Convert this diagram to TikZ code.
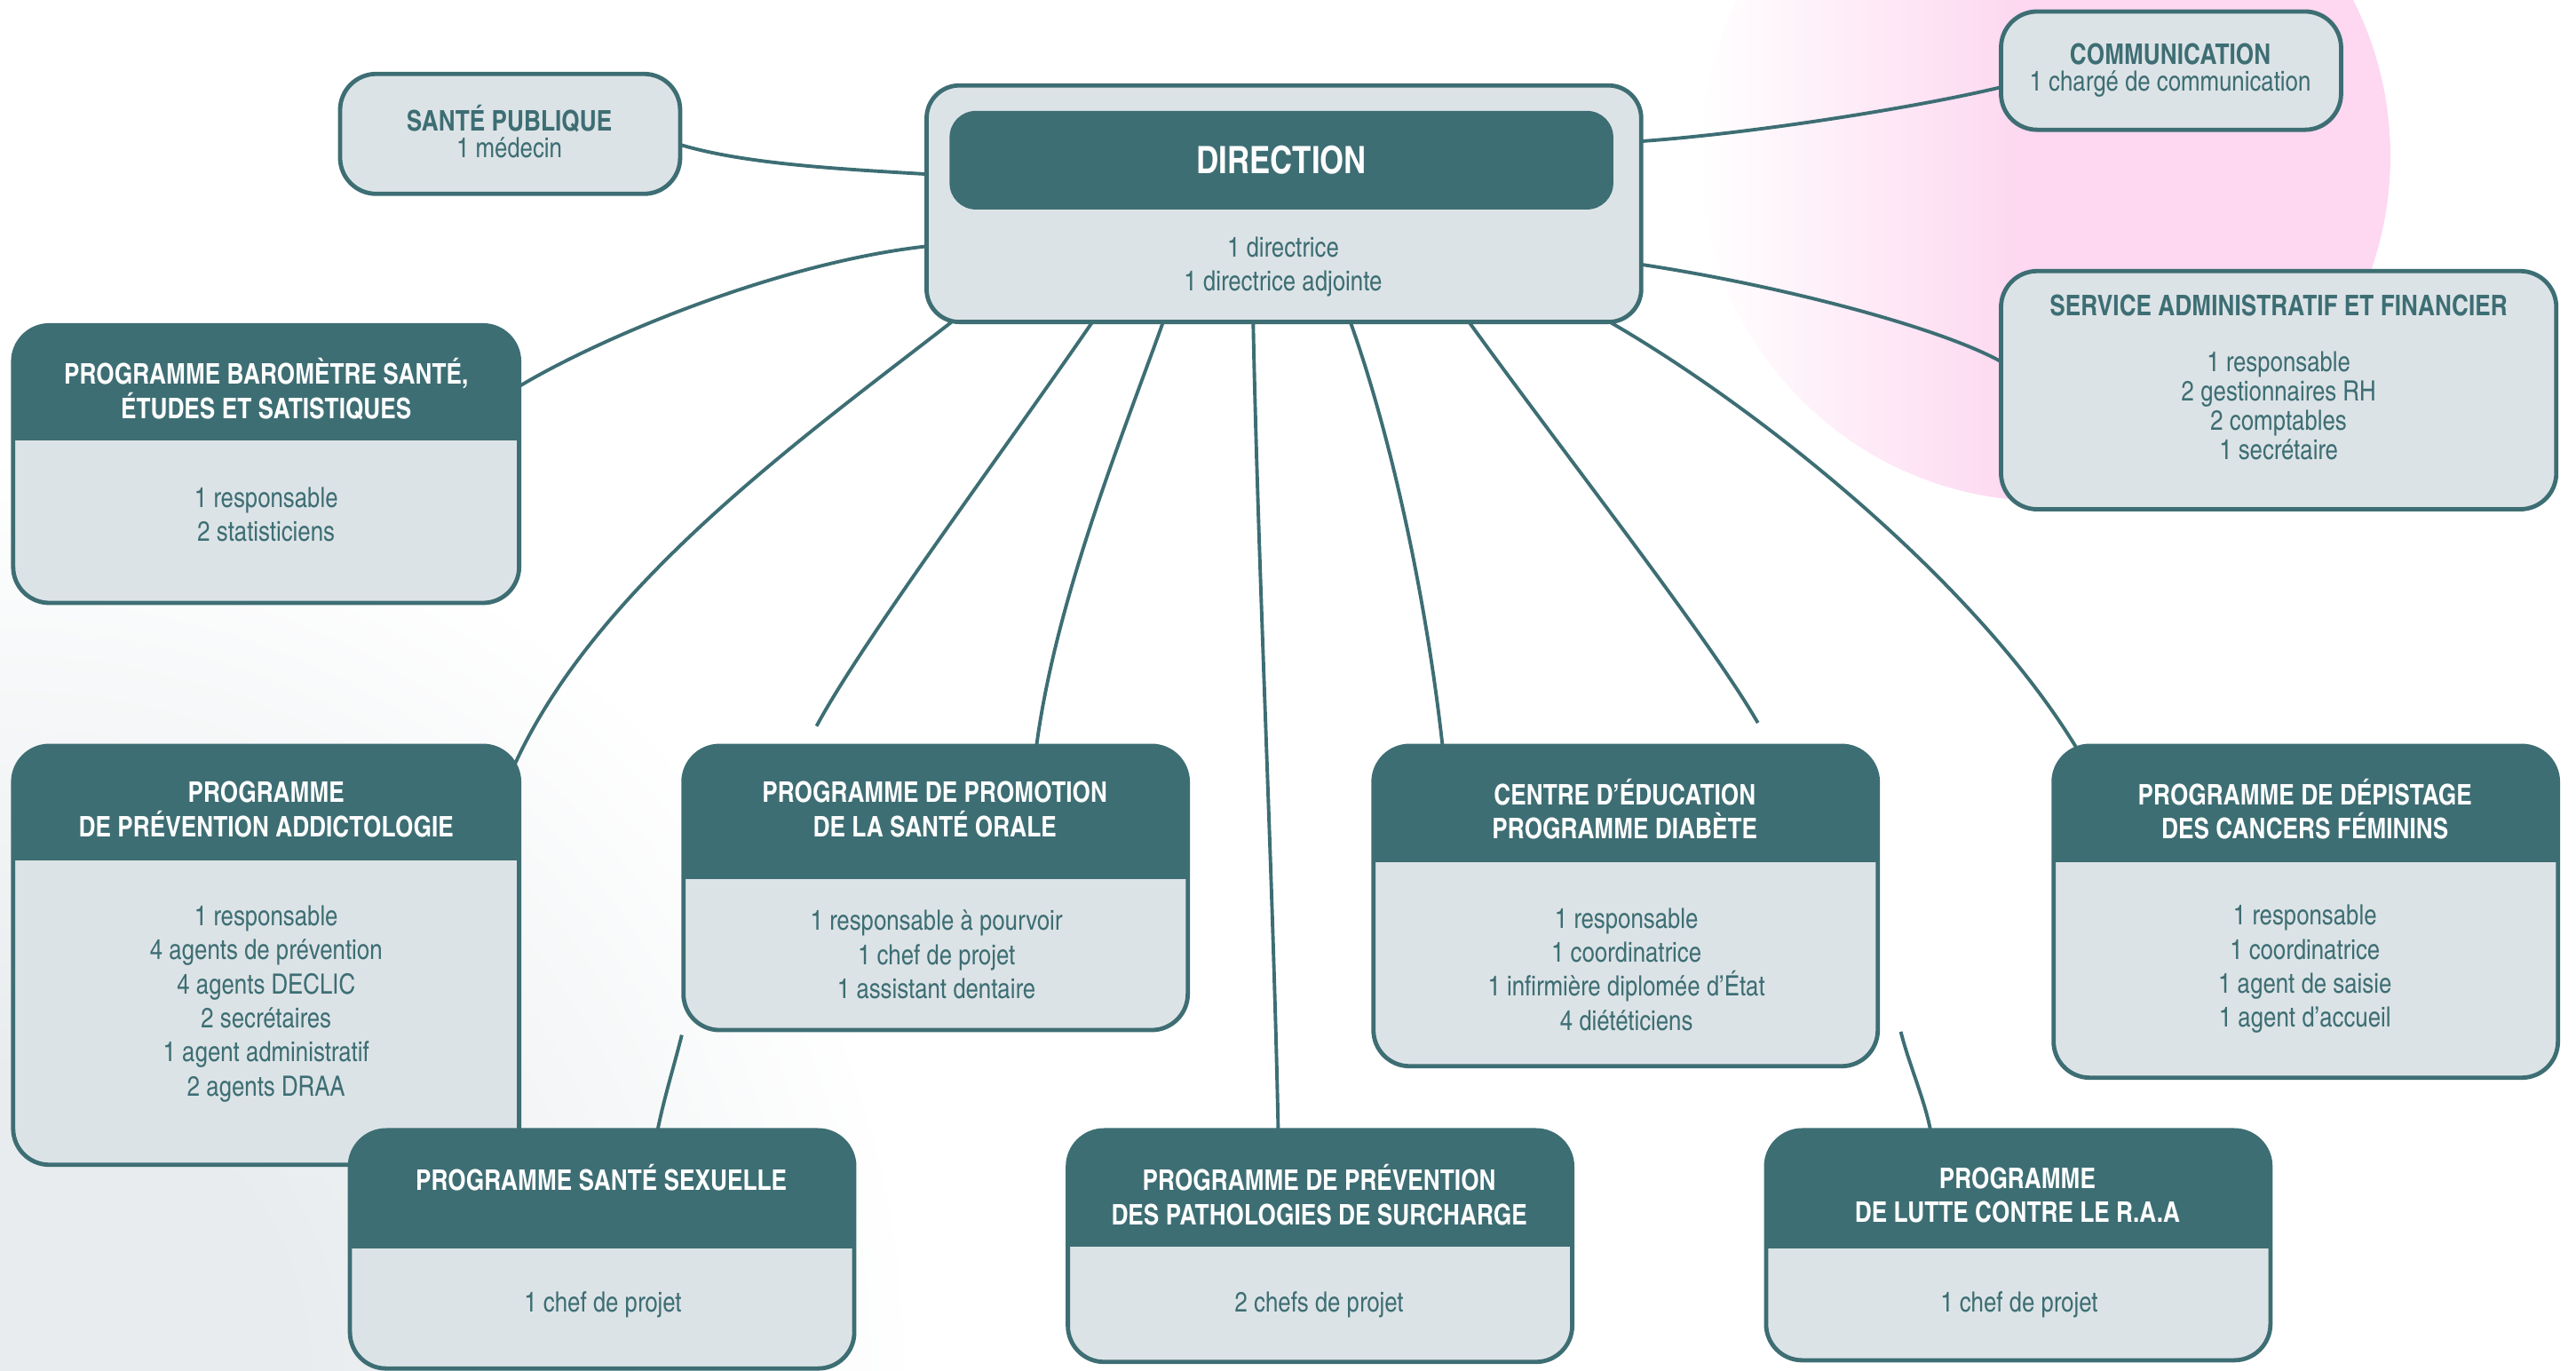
\documentclass[tikz,border=0pt]{standalone}
\usepackage{fontspec}
\setmainfont{texgyreheroscn-regular.otf}[BoldFont=texgyreheroscn-bold.otf]
\usetikzlibrary{calc}
\definecolor{orgteal}{RGB}{61,110,116}
\definecolor{orglight}{RGB}{220,227,230}
\definecolor{orgpink}{RGB}{253,216,240}
\definecolor{orggrey}{RGB}{232,236,238}
\pgfdeclarehorizontalshading{pinkfade}{100bp}{color(0bp)=(white); color(25bp)=(white); color(48bp)=(orgpink); color(100bp)=(orgpink)}
\pgfdeclareradialshading{greyfade}{\pgfpoint{0bp}{0bp}}{color(0bp)=(orggrey); color(8bp)=(orggrey); color(25bp)=(white); color(50bp)=(white)}
\begin{document}
\begin{tikzpicture}[x=1pt,y=-1pt,
  box/.style={rectangle, draw=orgteal, line width=2.6pt, fill=orglight, rounded corners=22pt, inner sep=0pt, outer sep=0pt},
  hdr/.style={path picture={\fill[orgteal, sharp corners] ([yshift=5pt]path picture bounding box.north west) rectangle ([yshift=-#1]path picture bounding box.north east);}},
  ttl/.style={text=white, font=\bfseries\fontsize{17.3}{21}\selectfont, align=center, inner sep=0pt},
  ttlt/.style={text=orgteal, font=\bfseries\fontsize{17.3}{21}\selectfont, align=center, inner sep=0pt},
  bdy/.style={text=orgteal, font=\fontsize{17}{20.7}\selectfont, align=center, inner sep=0pt},
  bdytight/.style={text=orgteal, font=\fontsize{17}{17.7}\selectfont, align=center, inner sep=0pt},
  conn/.style={draw=orgteal, line width=2.1pt}
]
\useasboundingbox (0,0) rectangle (1568,834.5);
\clip (0,0) rectangle (1568,834.5);
% background
\shade[shading=greyfade] (0,834.5) circle (560);
\shade[shading=pinkfade] (1245,95) circle (210);

% box outlines as named nodes (drawn later on top)
\path
  node[box, minimum width=207pt, minimum height=73pt, draw=none, fill=none] (sp) at (310.5,81.5) {}
  node[box, minimum width=435pt, minimum height=144pt, draw=none, fill=none] (dir) at (781.5,124) {}
  node[box, minimum width=207pt, minimum height=72pt, draw=none, fill=none] (com) at (1321.5,43) {}
  node[box, minimum width=338pt, minimum height=145pt, draw=none, fill=none] (ser) at (1387,237.5) {}
  node[box, minimum width=308pt, minimum height=169pt, draw=none, fill=none] (bar) at (162,282.5) {}
  node[box, minimum width=308pt, minimum height=255pt, draw=none, fill=none] (add) at (162,581.5) {}
  node[box, minimum width=307pt, minimum height=173pt, draw=none, fill=none] (ora) at (569.5,540.5) {}
  node[box, minimum width=307pt, minimum height=195pt, draw=none, fill=none] (cen) at (989.5,551.5) {}
  node[box, minimum width=307pt, minimum height=202pt, draw=none, fill=none] (dep) at (1403.5,555) {}
  node[box, minimum width=307pt, minimum height=145pt, draw=none, fill=none] (sex) at (366.5,760.5) {}
  node[box, minimum width=307pt, minimum height=141pt, draw=none, fill=none] (pat) at (803.5,758.5) {}
  node[box, minimum width=307pt, minimum height=140pt, draw=none, fill=none] (raa) at (1228.5,758) {};

% connectors passing behind boxes (shown in two visible pieces)
\coordinate (s6a) at (497,442);
\coordinate (s6b) at (415,630);
\coordinate (s10a) at (1070,440);
\coordinate (s10b) at (1157,628);
\draw[conn] ($(dir.south west)!0.232!(dir.south east)$) .. controls +(-55,80) and +(28,-52) .. (s6a);
\draw[conn] (s6b) .. controls +(-5,20) and +(4,-20) .. ($(sex.north west)!0.61!(sex.north east)$);
\draw[conn] ($(dir.south west)!0.759!(dir.south east)$) .. controls +(57,79) and +(-30,-52) .. (s10a);
\draw[conn] (s10b) .. controls +(5,20) and +(-4,-20) .. ($(raa.north west)!0.326!(raa.north east)$);

% direct connectors
\draw[conn] ($(sp.north east)!0.59!(sp.south east)$) .. controls +(40,12) and +(-50,-3) .. ($(dir.north west)!0.375!(dir.south west)$);
\draw[conn] ($(dir.north east)!0.236!(dir.south east)$) .. controls +(70,-5) and +(-50,12) .. ($(com.north west)!0.64!(com.south west)$);
\draw[conn] ($(dir.north east)!0.757!(dir.south east)$) .. controls +(80,12) and +(-40,-22) .. ($(ser.north west)!0.38!(ser.south west)$);
\draw[conn] ($(dir.north west)!0.68!(dir.south west)$) .. controls +(-90,10) and +(50,-30) .. ($(bar.north east)!0.22!(bar.south east)$);
\draw[conn] ($(dir.south west)!0.035!(dir.south east)$) .. controls +(-90,70) and +(50,-110) .. ($(add.north east)+(-3,12)$);
\draw[conn] ($(dir.south west)!0.331!(dir.south east)$) .. controls +(-25,70) and +(12,-90) .. ($(ora.north west)!0.70!(ora.north east)$);
\draw[conn] ($(dir.south west)!0.457!(dir.south east)$) .. controls +(3,150) and +(-3,-150) .. ($(pat.north west)!0.417!(pat.north east)$);
\draw[conn] ($(dir.south west)!0.593!(dir.south east)$) .. controls +(25,70) and +(-10,-90) .. ($(cen.north west)!0.137!(cen.north east)$);
\draw[conn] ($(dir.south west)!0.956!(dir.south east)$) .. controls +(95,55) and +(-60,-100) .. ($(dep.north west)+(15,3)$);

% boxes
\node[box, minimum width=207pt, minimum height=73pt] (spb) at (sp) {};
\node[ttlt] (spt) at (310,72) {SANTÉ PUBLIQUE};
\node[bdy] (spx) at (310,90) {1 médecin};

\node[box, rounded corners=20pt, minimum width=435pt, minimum height=144pt] (dirb) at (dir) {};
\node[fill=orgteal, rounded corners=16pt, minimum width=404pt, minimum height=60pt, inner sep=0pt, text=white, font=\bfseries\fontsize{23}{26}\selectfont] (dirh) at (780,97.5) {DIRECTION};
\node[bdy] (dirx) at (781,162.5) {1 directrice\\1 directrice adjointe};

\node[box, minimum width=207pt, minimum height=72pt] (comb) at (com) {};
\node[ttlt] (comt) at (1321,33) {COMMUNICATION};
\node[bdy] (comx) at (1321,51) {1 chargé de communication};

\node[box, minimum width=338pt, minimum height=145pt] (serb) at (ser) {};
\node[ttlt] (sert) at (1387,186) {SERVICE ADMINISTRATIF ET FINANCIER};
\node[bdytight] (serx) at (1387,247) {1 responsable\\2 gestionnaires RH\\2 comptables\\1 secrétaire};

\node[box, hdr=70pt, minimum width=308pt, minimum height=169pt] (barb) at (bar) {};
\node[ttl] (bart) at (162,237) {PROGRAMME BAROMÈTRE SANTÉ,\\ÉTUDES ET SATISTIQUES};
\node[bdy] (barx) at (162,313) {1 responsable\\2 statisticiens};

\node[box, hdr=70pt, minimum width=308pt, minimum height=255pt] (addb) at (add) {};
\node[ttl] (addt) at (162,492.5) {PROGRAMME\\DE PRÉVENTION ADDICTOLOGIE};
\node[bdy] (addx) at (162,611) {1 responsable\\4 agents de prévention\\4 agents DECLIC\\2 secrétaires\\1 agent administratif\\2 agents DRAA};

\node[box, hdr=81pt, minimum width=307pt, minimum height=173pt] (orab) at (ora) {};
\node[ttl] (orat) at (569,492.5) {PROGRAMME DE PROMOTION\\DE LA SANTÉ ORALE};
\node[bdy] (orax) at (570,581) {1 responsable à pourvoir\\1 chef de projet\\1 assistant dentaire};

\node[box, hdr=71pt, minimum width=307pt, minimum height=195pt] (cenb) at (cen) {};
\node[ttl] (cent) at (989,492.5) {CENTRE D’ÉDUCATION\\PROGRAMME DIABÈTE};
\node[bdy] (cenx) at (990,590) {1 responsable\\1 coordinatrice\\1 infirmière diplomée d’État\\4 diététiciens};

\node[box, hdr=71pt, minimum width=307pt, minimum height=202pt] (depb) at (dep) {};
\node[ttl] (dept) at (1403,492.5) {PROGRAMME DE DÉPISTAGE\\DES CANCERS FÉMININS};
\node[bdy] (depx) at (1403,590) {1 responsable\\1 coordinatrice\\1 agent de saisie\\1 agent d’accueil};

\node[box, hdr=72pt, minimum width=307pt, minimum height=145pt] (sexb) at (sex) {};
\node[ttl] (sext) at (366,717) {PROGRAMME SANTÉ SEXUELLE};
\node[bdy] (sexx) at (367,794) {1 chef de projet};

\node[box, hdr=71pt, minimum width=307pt, minimum height=141pt] (patb) at (pat) {};
\node[ttl] (patt) at (803,727.5) {PROGRAMME DE PRÉVENTION\\DES PATHOLOGIES DE SURCHARGE};
\node[bdy] (patx) at (803,794) {2 chefs de projet};

\node[box, hdr=72pt, minimum width=307pt, minimum height=140pt] (raab) at (raa) {};
\node[ttl] (raat) at (1228,727.5) {PROGRAMME\\DE LUTTE CONTRE LE R.A.A};
\node[bdy] (raax) at (1229,794) {1 chef de projet};
\end{tikzpicture}
\end{document}
